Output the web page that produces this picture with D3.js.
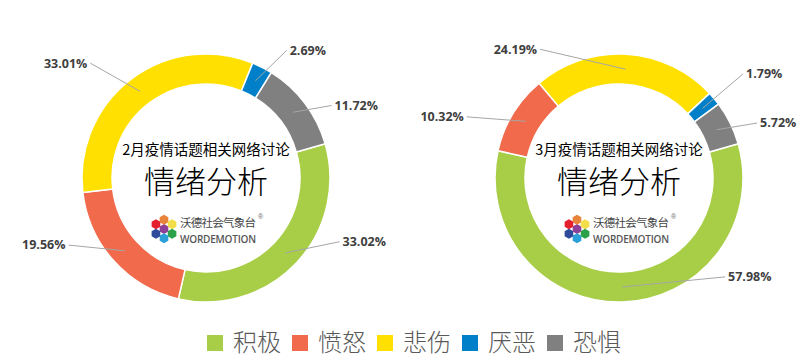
<!DOCTYPE html>
<html>
<head>
<meta charset="utf-8">
<script src="https://cdn.jsdelivr.net/npm/d3@7"></script>
<style>
  body { margin: 0; background: #fff; }
  svg { display: block; }
</style>
</head>
<body>
<div id="chart"></div>
<script>
const categories = ["积极", "愤怒", "悲伤", "厌恶", "恐惧"];
const febValues = [33.02, 19.56, 33.01, 2.69, 11.72];
const marValues = [57.98, 10.32, 24.19, 1.79, 5.72];
const titles = ["2月疫情话题相关网络讨论", "3月疫情话题相关网络讨论"];

const colors = ["#a8ce48", "#f06a4b", "#ffe000", "#0080c8", "#808080"];

// manual label anchors, [angle deg, radius] like the dragged labels in the original
const febLabelPos = [[115.5, 148], [244, 153], [314.8, 163], [32.3, 151], [60, 145]];
const marLabelPos = [[133, 145], [291.9, 164], [328.5, 151], [50, 162], [68.3, 148.6]];

const width = 802, height = 362;
const outerR = 124, innerR = 94;
const startDeg = 74;

const svg = d3.select("#chart")
  .append("svg")
  .attr("width", width)
  .attr("height", height);

const color = d3.scaleOrdinal().domain(categories).range(colors);

const pie = d3.pie()
  .sort(null)
  .value(d => d.value)
  .startAngle(startDeg * Math.PI / 180)
  .endAngle((startDeg + 360) * Math.PI / 180);

const arc = d3.arc().innerRadius(innerR).outerRadius(outerR);

const logoColors = ["#e8833a", "#f3dd48", "#2ba24a", "#2a9fd8", "#2e4b9b", "#e5202e"];

function donut(cx, cy, values, labelPos, title) {
  const g = svg.append("g").attr("transform", `translate(${cx},${cy})`);
  const data = categories.map((c, i) => ({ name: c, value: values[i], lp: labelPos[i] }));
  const arcs = pie(data);

  g.selectAll("path.slice")
    .data(arcs)
    .enter()
    .append("path")
    .attr("class", "slice")
    .attr("d", arc)
    .attr("fill", d => color(d.data.name))
    .attr("stroke", "#fff")
    .attr("stroke-width", 1.5);

  // leader lines + labels
  arcs.forEach(d => {
    const [ix, iy] = arc.centroid(d);
    const a = d.data.lp[0] * Math.PI / 180, r = d.data.lp[1];
    const ox = Math.sin(a) * r, oy = -Math.cos(a) * r;
    const right = ox > 0;
    g.append("line")
      .attr("x1", ix).attr("y1", iy)
      .attr("x2", ox).attr("y2", oy)
      .attr("stroke", "#a6a6a6")
      .attr("stroke-width", 1);
    g.append("text")
      .attr("x", ox + (right ? 3 : -3))
      .attr("y", oy)
      .attr("dy", "0.35em")
      .attr("text-anchor", right ? "start" : "end")
      .attr("font-family", "'Open Sans', 'Liberation Sans', sans-serif")
      .attr("font-weight", 700)
      .attr("font-size", "12.5px")
      .attr("fill", "#404040")
      .text(d3.format(".2f")(d.data.value) + "%");
  });

  // centre text
  g.append("text")
    .attr("y", -28)
    .attr("dy", "0.35em")
    .attr("text-anchor", "middle")
    .attr("font-family", "'Noto Sans CJK SC', sans-serif")
    .attr("font-size", "14.5px")
    .attr("fill", "#000")
    .text(title);

  g.append("text")
    .attr("y", 4)
    .attr("dy", "0.35em")
    .attr("text-anchor", "middle")
    .attr("font-family", "'Noto Sans CJK SC', sans-serif")
    .attr("font-weight", 300)
    .attr("font-size", "31px")
    .attr("fill", "#000")
    .text("情绪分析");

  // logo
  const logo = g.append("g").attr("transform", "translate(-42,51)");
  const hex = r => d3.range(6).map(k => {
    const t = Math.PI / 6 + k * Math.PI / 3;
    return [Math.cos(t) * r, Math.sin(t) * r];
  });
  const hexPath = d3.line().curve(d3.curveLinearClosed);
  logo.append("path").attr("d", hexPath(hex(5))).attr("fill", "#8e3f98");
  logoColors.forEach((c, k) => {
    const t = -Math.PI / 2 + k * Math.PI / 3;
    logo.append("path")
      .attr("transform", `translate(${Math.cos(t) * 9.3},${Math.sin(t) * 9.3})`)
      .attr("d", hexPath(hex(5)))
      .attr("fill", c);
  });

  g.append("text")
    .attr("x", -26).attr("y", 45)
    .attr("dy", "0.35em")
    .attr("font-family", "'Noto Sans CJK SC', sans-serif")
    .attr("font-size", "11.5px")
    .attr("fill", "#444")
    .attr("textLength", 76)
    .text("沃德社会气象台");
  g.append("text")
    .attr("x", 52).attr("y", 41)
    .attr("font-family", "'Liberation Sans', sans-serif")
    .attr("font-size", "7px")
    .attr("fill", "#666")
    .text("®");
  g.append("text")
    .attr("x", -26).attr("y", 61)
    .attr("dy", "0.35em")
    .attr("font-family", "'Open Sans', sans-serif")
    .attr("font-weight", 600)
    .attr("font-size", "10px")
    .attr("fill", "#555")
    .attr("textLength", 76)
    .attr("lengthAdjust", "spacing")
    .text("WORDEMOTION");
}

donut(206, 178, febValues, febLabelPos, titles[0]);
donut(619, 178, marValues, marLabelPos, titles[1]);

// legend
const lx = d3.scalePoint().domain(categories).range([207, 547]);
const legend = svg.append("g").attr("id", "legend");
categories.forEach(c => {
  legend.append("rect")
    .attr("x", lx(c))
    .attr("y", 335)
    .attr("width", 16)
    .attr("height", 16)
    .attr("fill", color(c));
  legend.append("text")
    .attr("x", lx(c) + 26)
    .attr("y", 343)
    .attr("dy", "0.35em")
    .attr("font-family", "'Noto Sans CJK SC', sans-serif")
    .attr("font-weight", 300)
    .attr("font-size", "24px")
    .attr("fill", "#595959")
    .text(c);
});
</script>
</body>
</html>
